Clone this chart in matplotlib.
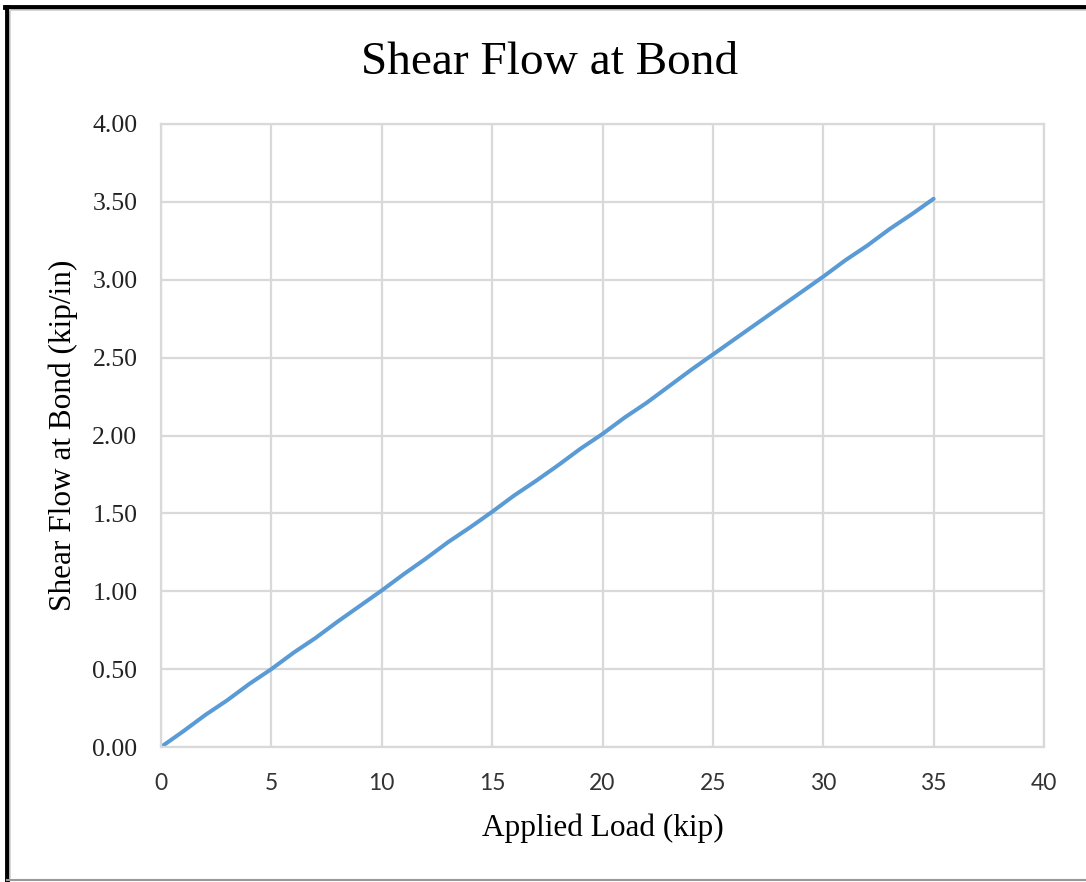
import matplotlib
matplotlib.use("Agg")
import matplotlib.pyplot as plt
from matplotlib.lines import Line2D

# applied load (kip) vs shear flow at bond (kip/in)
load = [0, 1, 2, 3, 4, 5, 6, 7, 8, 9, 10, 11, 12, 13, 14, 15, 16, 17,
        18, 19, 20, 21, 22, 23, 24, 25, 26, 27, 28, 29, 30, 31, 32, 33, 34, 35]
shear_flow = [0.00, 0.10, 0.205, 0.30, 0.405, 0.50, 0.605, 0.70, 0.805, 0.905,
              1.005, 1.11, 1.21, 1.315, 1.41, 1.51, 1.615, 1.71, 1.81, 1.915,
              2.01, 2.115, 2.21, 2.315, 2.42, 2.52, 2.62, 2.72, 2.82, 2.92,
              3.02, 3.125, 3.22, 3.325, 3.42, 3.52]

x_ticks = [0, 5, 10, 15, 20, 25, 30, 35, 40]
y_ticks = [0.0, 0.5, 1.0, 1.5, 2.0, 2.5, 3.0, 3.5, 4.0]

serif = "Liberation Serif"
grid_col = "#D9D9D9"

fig = plt.figure(figsize=(10.86, 8.82), dpi=100)
ax = fig.add_axes([161/1086, 135/882, 883/1086, 623/882])

ax.plot(load, shear_flow, color="#5B9BD5", lw=2.9, solid_capstyle="round")

ax.set_xlim(0, 40)
ax.set_ylim(0, 4)
ax.set_xticks(x_ticks)
ax.set_yticks(y_ticks)
ax.set_yticklabels([f"{v:.2f}" for v in y_ticks], family=serif, fontsize=18.5)
ax.set_xticklabels([str(v) for v in x_ticks], family="Lato", fontsize=16.5)
ax.tick_params(axis="x", length=0, pad=19, colors="#333333")
ax.tick_params(axis="y", length=0, pad=17, colors="#222222")

ax.grid(True, color=grid_col, lw=1.6)
ax.set_axisbelow(True)
for s in ax.spines.values():
    s.set_color(grid_col)
    s.set_linewidth(1.6)

ax.set_xlabel("Applied Load (kip)", family=serif, fontsize=22.5, labelpad=14)
ax.set_ylabel("Shear Flow at Bond (kip/in)", family=serif, fontsize=22.5, labelpad=10)
fig.text(550/1086, 1 - 63/882, "Shear Flow at Bond", family=serif, fontsize=34,
         ha="center", va="center")

# frame around the picture
fig.add_artist(Line2D([7/1086, 7/1086], [0, 1 - 7/882], color="black", lw=3.5,
                      transform=fig.transFigure))
fig.add_artist(Line2D([5/1086, 1], [1 - 7/882, 1 - 7/882], color="black", lw=3.5,
                      transform=fig.transFigure))
fig.add_artist(Line2D([10/1086, 10/1086], [2/882, 1 - 10/882], color="#D0D0D0", lw=1.2,
                      transform=fig.transFigure))
fig.add_artist(Line2D([10/1086, 1], [1 - 10/882, 1 - 10/882], color="#D0D0D0", lw=1.2,
                      transform=fig.transFigure))
fig.add_artist(Line2D([7/1086, 1], [2/882, 2/882], color="#999999", lw=1.5,
                      transform=fig.transFigure))

fig.savefig("out.png", dpi=100)
